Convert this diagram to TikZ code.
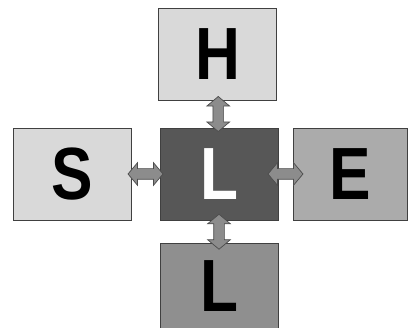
\documentclass[tikz,border=0pt]{standalone}
\usepackage{fontspec}
\setmainfont{Liberation Sans}
\usetikzlibrary{shapes.arrows,positioning,calc}
\definecolor{palegray}{HTML}{D9D9D9}
\definecolor{darkgray}{HTML}{575757}
\definecolor{midgray}{HTML}{ABABAB}
\definecolor{deepgray}{HTML}{8F8F8F}
\newcommand{\bigletter}[1]{\scalebox{0.84}[1]{\fontsize{74}{74}\selectfont\bfseries #1}}

\begin{document}
\begin{tikzpicture}[x=1pt, y=-1pt,
    box/.style={draw=black!75, line width=0.8pt, minimum width=118pt, minimum height=92pt, inner sep=0pt},
    dblarr/.style={double arrow, draw=black!70, fill=black!45, line width=0.7pt, minimum height=35pt, inner sep=5pt, double arrow head extend=6pt, double arrow tip angle=100}
]
\useasboundingbox (0,0) rectangle (408,328);
\node[box, fill=palegray] (hbox) at (217.5,54) {\bigletter{H}};
\node[box, fill=darkgray, text=white] (lc) at (219,174) {\bigletter{L}};
\node[box, fill=palegray] (sbox) at (72,174) {\bigletter{S}};
\node[box, fill=midgray, minimum width=114pt] (ebox) at (350,174) {\bigletter{E}};
\node[box, fill=deepgray, minimum height=85pt] (lbot) at (219,286) {\bigletter{L}};

\node[dblarr, rotate=90] (ah) at ($(hbox.south)!0.5!(lc.north)$) {};
\node[dblarr] (as) at ($(sbox.east)!0.5!(lc.west)$) {};
\node[dblarr] (ae) at ($(lc.east)!0.5!(ebox.west)$) {};
\node[dblarr, rotate=90] (al) at ($(lc.south)!0.5!(lbot.north)$) {};
\end{tikzpicture}
\end{document}
